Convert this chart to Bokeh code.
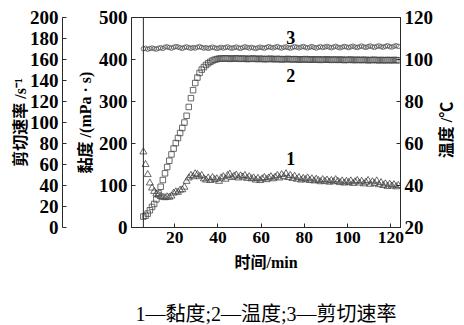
import math
from bokeh.plotting import figure
from bokeh.models import LinearAxis, Range1d, FixedTicker, Label, Span, Title
from bokeh.embed import file_html
from bokeh.resources import INLINE

time_min = [5.5, 6.5, 7.5, 8.5, 9.5, 10.5, 11.5, 12.5, 13.5, 14.5,
            15.5, 16.5, 17.5, 18.5, 19.5, 20.5, 21.5, 22.5, 23.5, 24.5,
            25.5, 26.5, 27.5, 28.5, 29.5, 30.5, 31.5, 32.5, 33.5, 34.5,
            35.5, 36.5, 37.5, 38.5, 39.5, 40.5, 41.5, 42.5, 43.5, 44.5,
            45.5, 46.5, 47.5, 48.5, 49.5, 50.5, 51.5, 52.5, 53.5, 54.5,
            55.5, 56.5, 57.5, 58.5, 59.5, 60.5, 61.5, 62.5, 63.5, 64.5,
            65.5, 66.5, 67.5, 68.5, 69.5, 70.5, 71.5, 72.5, 73.5, 74.5,
            75.5, 76.5, 77.5, 78.5, 79.5, 80.5, 81.5, 82.5, 83.5, 84.5,
            85.5, 86.5, 87.5, 88.5, 89.5, 90.5, 91.5, 92.5, 93.5, 94.5,
            95.5, 96.5, 97.5, 98.5, 99.5, 100.5, 101.5, 102.5, 103.5, 104.5,
            105.5, 106.5, 107.5, 108.5, 109.5, 110.5, 111.5, 112.5, 113.5, 114.5,
            115.5, 116.5, 117.5, 118.5, 119.5, 120.5, 121.5, 122.5, 123.5]

viscosity = [180, 150, 126, 106, 94, 86, 80, 77, 74, 72,
             71, 73, 72, 75, 82, 85, 84, 89, 90, 96,
             110, 118, 124, 121, 128, 126, 121, 124, 116, 113,
             118, 112, 119, 114, 116, 110, 118, 121, 115, 124,
             127, 119, 122, 125, 118, 123, 120, 124, 117, 121,
             116, 118, 113, 117, 112, 116, 119, 114, 118, 121,
             116, 120, 124, 118, 126, 121, 128, 119, 124, 117,
             122, 115, 119, 113, 117, 114, 118, 112, 116, 111,
             115, 112, 109, 114, 110, 113, 108, 112, 109, 114,
             110, 107, 111, 106, 110, 107, 111, 105, 109, 112,
             106, 110, 104, 108, 112, 103, 109, 105, 111, 102,
             107, 100, 104, 98, 103, 99, 102, 97, 100]

temperature = [25.2, 25.6, 26.6, 28.2, 29.8, 31.2, 33.4, 36.4, 39.4, 42.6,
               45.8, 48.8, 51.8, 54.8, 57.6, 60.2, 62.6, 65.0, 67.4, 70.0,
               73.2, 77.4, 81.6, 85.4, 88.8, 91.4, 93.6, 95.2, 96.4, 97.4,
               98.2, 98.9, 99.5, 99.9, 100.2, 100.4, 100.5, 100.4, 100.6, 100.5,
               100.3, 100.5, 100.4, 100.6, 100.4, 100.3, 100.5, 100.4, 100.2, 100.4,
               100.3, 100.5, 100.3, 100.2, 100.4, 100.3, 100.1, 100.3, 100.2, 100.4,
               100.2, 100.1, 100.3, 100.2, 100.0, 100.2, 100.1, 100.3, 100.1, 100.0,
               100.2, 100.1, 99.9, 100.1, 100.0, 100.2, 100.0, 99.9, 100.1, 100.0,
               99.9, 100.1, 99.8, 100.0, 99.9, 100.1, 99.9, 99.8, 100.0, 99.9,
               99.8, 100.0, 99.9, 99.7, 99.9, 99.8, 100.0, 99.8, 99.7, 99.9,
               99.8, 99.7, 99.9, 99.8, 99.6, 99.8, 99.7, 99.9, 99.7, 99.6,
               99.8, 99.7, 99.6, 99.8, 99.7, 99.6, 99.8, 99.7, 99.6]

shear_rate = [170.2, 170.6, 169.8, 170.4, 171.0, 170.3, 169.9, 170.7, 171.2, 170.5,
              171.8, 172.1, 171.4, 170.8, 171.6, 172.3, 171.9, 171.2, 170.6, 171.5,
              172.0, 171.3, 170.7, 171.4, 170.9, 171.7, 172.2, 171.5, 170.8, 171.3,
              170.6, 171.1, 171.8, 171.2, 170.5, 171.0, 171.6, 170.9, 171.4, 172.0,
              171.2, 170.7, 171.3, 171.9, 171.1, 170.6, 171.4, 172.1, 171.5, 170.9,
              171.6, 171.0, 170.5, 171.2, 171.8, 171.3, 170.8, 171.5, 172.2, 171.6,
              171.0, 171.7, 172.3, 171.4, 170.9, 171.6, 172.0, 171.3, 170.8, 171.5,
              172.2, 171.7, 171.1, 171.8, 172.4, 171.6, 171.0, 171.7, 172.3, 171.5,
              170.9, 171.6, 172.2, 171.4, 171.9, 172.5, 171.8, 171.2, 171.9, 172.6,
              171.7, 171.1, 171.8, 172.4, 172.0, 171.3, 172.1, 172.7, 171.9, 171.4,
              172.2, 172.8, 172.0, 171.5, 172.3, 172.9, 172.1, 171.6, 172.4, 173.0,
              172.2, 171.7, 172.5, 173.1, 172.3, 171.8, 172.6, 173.2, 172.4]

time_ticks = [20, 40, 60, 80, 100, 120]
viscosity_ticks = [0, 100, 200, 300, 400, 500]
shear_ticks = [0, 20, 40, 60, 80, 100, 120, 140, 160, 180, 200]
temp_ticks = [20, 40, 60, 80, 100, 120]

curve_labels = ["1", "2", "3"]
caption = "1—黏度;2—温度;3—剪切速率"

NUM_FONT = "Liberation Serif"
CJK_FONT = "Liberation Serif, Noto Sans CJK SC"
INK = "#2a2a2a"

p = figure(frame_width=269, frame_height=210, output_backend="svg", toolbar_location=None,
           x_range=Range1d(0, 124.5), y_range=Range1d(0, 500),
           min_border_left=131, min_border_right=64, min_border_top=17, min_border_bottom=98)
p.extra_y_ranges = {"shear": Range1d(0, 200), "temp": Range1d(20, 120)}
p.grid.visible = False
p.outline_line_color = INK
p.outline_line_width = 1
p.background_fill_color = "white"
p.border_fill_color = "white"


def style_axis(ax, ticks, size="19px"):
    ax.ticker = FixedTicker(ticks=ticks)
    ax.axis_line_color = INK
    ax.major_tick_line_color = INK
    ax.major_tick_in = 4
    ax.major_tick_out = 0
    ax.minor_tick_line_color = None
    ax.major_label_text_font = NUM_FONT
    ax.major_label_text_font_style = "bold"
    ax.major_label_text_font_size = size
    ax.major_label_text_color = "black"
    ax.axis_label_text_font = CJK_FONT
    ax.axis_label_text_font_style = "bold"
    ax.axis_label_text_font_size = "16px"
    ax.axis_label_text_color = "black"


xax = p.xaxis[0]
style_axis(xax, time_ticks, "17.5px")
xax.axis_label = "时间/min"
xax.major_label_standoff = 4
xax.axis_label_standoff = 8

vax = p.yaxis[0]
style_axis(vax, viscosity_ticks)
vax.axis_label = "黏度 /(mPa · s)"
vax.major_label_standoff = 4
vax.axis_label_standoff = 2

spacer = Title(text=" ", text_font_size="8px", standoff=0)

sax = LinearAxis(y_range_name="shear")
style_axis(sax, shear_ticks)
sax.axis_label = "剪切速率 /s⁻¹"
sax.major_label_standoff = 4
sax.axis_label_standoff = -2
p.left = [vax, spacer, sax]

tax = LinearAxis(y_range_name="temp")
style_axis(tax, temp_ticks)
tax.major_label_standoff = 4

# right-hand title drawn as the single label of a bare axis, reading bottom-to-top
temp_title_at = 53
temp_title = LinearAxis(y_range_name="temp", ticker=FixedTicker(ticks=[temp_title_at]),
                        major_label_overrides={temp_title_at: "温度 /℃"},
                        major_label_orientation=math.pi / 2,
                        axis_line_color=None, major_tick_line_color=None,
                        major_tick_in=0, major_tick_out=0, minor_tick_line_color=None,
                        major_label_standoff=10,
                        major_label_text_font=CJK_FONT, major_label_text_font_style="bold",
                        major_label_text_font_size="16px", major_label_text_color="black")
p.right = [tax, temp_title]

p.add_layout(Span(location=time_min[0], dimension="height", line_color=INK, line_width=1))

p.scatter(time_min, shear_rate, marker="circle", size=4.5, y_range_name="shear",
          fill_color=None, line_color="#555555", line_width=0.8)
p.scatter(time_min, temperature, marker="square", size=5.5, y_range_name="temp",
          fill_color=None, line_color="#444444", line_width=0.8)
p.scatter(time_min, viscosity, marker="triangle", size=7,
          fill_color=None, line_color="#444444", line_width=0.8)

for txt, yv in zip(curve_labels, [165, 363, 453]):
    p.add_layout(Label(x=73.7, y=yv, text=txt, text_align="center", text_baseline="middle",
                       text_font=NUM_FONT, text_font_style="bold", text_font_size="18px",
                       text_color="black"))

gap = Title(text=" ", text_font_size="18px", standoff=0)
cap = Title(text=caption, align="center", offset=-31, text_font=CJK_FONT,
            text_font_style="normal", text_font_size="20px", text_color="black", standoff=10)
p.below = [xax, gap, cap]

open("out.html", "w").write(file_html(p, INLINE))
